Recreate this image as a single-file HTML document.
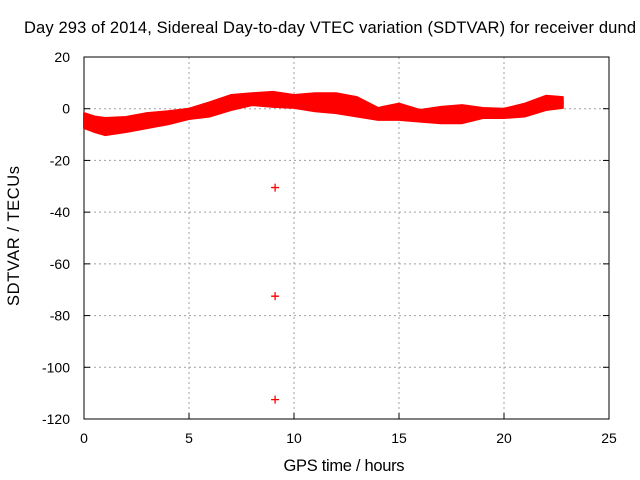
<!DOCTYPE html>
<html><head><meta charset="utf-8"><style>
body{margin:0;background:#fff}
svg{display:block;font-family:"Liberation Sans",Arial,sans-serif;font-size:14px}
.big{font-size:16.5px}
</style></head><body>
<svg width="640" height="480" xmlns="http://www.w3.org/2000/svg">
<text class="big" x="330" y="33" text-anchor="middle" textLength="612">Day 293 of 2014, Sidereal Day-to-day VTEC variation (SDTVAR) for receiver dund</text>
<g id="grid"></g>
<g id="axes"></g>
<g id="marks"></g>
<text class="big" x="344" y="471" text-anchor="middle" textLength="121">GPS time / hours</text>
<text class="big" transform="translate(19,236) rotate(-90)" text-anchor="middle" textLength="140">SDTVAR / TECUs</text>
</svg>
<script>
const hours=[0,0.5,1,2,3,4,5,6,7,8,9,10,11,12,13,14,15,16,17,18,19,20,21,22,22.8];
const upper=[-1.7,-3,-3.6,-3.2,-1.7,-1,0,2.5,5.3,6,6.5,5.3,6,6,4.5,0.3,2,-0.5,0.7,1.4,0.3,0,2,5,4.5];
const lower=[-7.5,-9,-10.2,-9,-7.5,-6,-4,-3,-0.5,1.4,0.7,0.3,-1,-1.7,-3,-4.3,-4.3,-5,-5.6,-5.6,-3.6,-3.6,-3,-0.5,0.3];
const outlierHours=[9.1,9.1,9.1];
const outlierValues=[-30.5,-72.5,-112.5];
const xTicks=[0,5,10,15,20,25];
const yTicks=[20,0,-20,-40,-60,-80,-100,-120];
const X0=84,X1=609,Y0=57,Y1=419;
const xs=v=>X0+(v-0)/25*(X1-X0);
const ys=v=>Y0+(20-v)/140*(Y1-Y0);
const NS="http://www.w3.org/2000/svg";
function mk(t,a,p){const e=document.createElementNS(NS,t);for(const k in a)e.setAttribute(k,a[k]);p.appendChild(e);return e;}
const grid=document.getElementById('grid'),axes=document.getElementById('axes'),marks=document.getElementById('marks');
xTicks.forEach(t=>{
  if(t>0&&t<25){const l=mk('line',{x1:xs(t),x2:xs(t),y1:Y0,y2:Y1,stroke:'#a0a0a0','stroke-dasharray':'2,3'},grid);
  
  }
  const tk=mk('line',{x1:xs(t),x2:xs(t),y1:Y1,y2:Y1-6,stroke:'#000'},axes);
  
  
  const tx=mk('text',{x:xs(t),y:Y1+24,'text-anchor':'middle'},axes);tx.textContent=t;
  
  
});
yTicks.forEach(t=>{
  if(t<20&&t>-120){const l=mk('line',{x1:X0,x2:X1,y1:ys(t),y2:ys(t),stroke:'#a0a0a0','stroke-dasharray':'2,3'},grid);
  
  }
  const tk=mk('line',{x1:X0,x2:X0+6,y1:ys(t),y2:ys(t),stroke:'#000'},axes);
  
  
  const tk2=mk('line',{x1:X1,x2:X1-6,y1:ys(t),y2:ys(t),stroke:'#000'},axes);
  
  
  const tx=mk('text',{x:X0-14,y:ys(t)+5,'text-anchor':'end'},axes);tx.textContent=t;
  
  
});
const fr=mk('rect',{x:X0,y:Y0,width:X1-X0,height:Y1-Y0,fill:'none',stroke:'#000'},axes);


let pts=hours.map((h,i)=>xs(h)+','+ys(upper[i]));
for(let i=hours.length-1;i>=0;i--)pts.push(xs(hours[i])+','+ys(lower[i]));
const band=mk('polygon',{points:pts.join(' '),fill:'#ff0000',stroke:'#ff0000','stroke-width':2,'stroke-linejoin':'round'},marks);


outlierHours.forEach((h,i)=>{
  const x=xs(h),y=ys(outlierValues[i]);
  const p=mk('path',{d:`M${x-4},${y}H${x+4}M${x},${y-4}V${y+4}`,stroke:'#ff0000','stroke-width':1.3},marks);
  
  
});
</script>
</body></html>
